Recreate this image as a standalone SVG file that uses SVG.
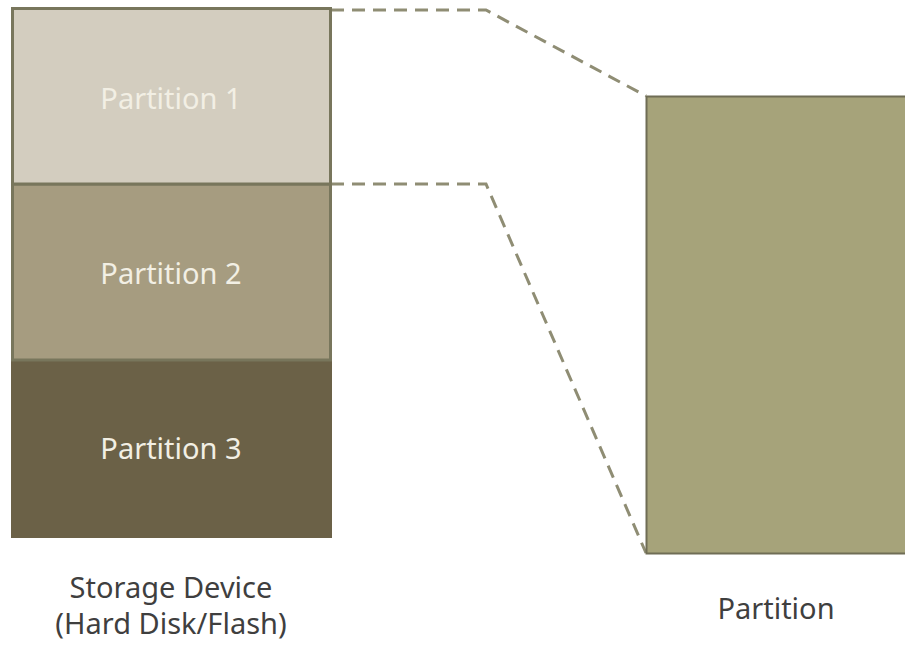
<svg xmlns="http://www.w3.org/2000/svg" width="905" height="647" viewBox="0 0 905 647">
<style>
.pl{font-family:"Noto Sans","Open Sans",sans-serif;font-size:29px;fill:#f2efe4;text-anchor:middle}
.lb{font-family:"Noto Sans","Open Sans",sans-serif;font-size:29px;fill:#3f3f3f;text-anchor:middle}
.dash{fill:none;stroke:#8f8d74;stroke-width:3;stroke-dasharray:13 8}
</style>
<rect width="905" height="647" fill="#ffffff"/>
<g id="connectors">
<polyline class="dash" points="331,10 486,10 646,96"/>
<polyline class="dash" points="331,184 486,184 646,553"/>
</g>
<g id="partition3">
<rect x="11" y="360" width="321" height="178" fill="#6b6147"/>
<text class="pl" x="171" y="459">Partition 3</text>
</g>
<g id="partition2">
<rect x="12.5" y="184" width="318" height="176" fill="#a69c80" stroke="#78765c" stroke-width="3"/>
<text class="pl" x="171" y="284">Partition 2</text>
</g>
<g id="partition1">
<rect x="12.5" y="8.5" width="318" height="175.5" fill="#d3cdbf" stroke="#78765c" stroke-width="3"/>
<text class="pl" x="171" y="109">Partition 1</text>
</g>
<g id="partition">
<rect x="646.5" y="96.5" width="262" height="457" fill="#a6a37a" stroke="#6f6d55" stroke-width="2"/>
<text class="lb" x="776" y="619">Partition</text>
</g>
<g id="storage-label">
<text class="lb" x="171" y="598">Storage Device</text>
<text class="lb" x="171" y="634">(Hard Disk/Flash)</text>
</g>
</svg>
